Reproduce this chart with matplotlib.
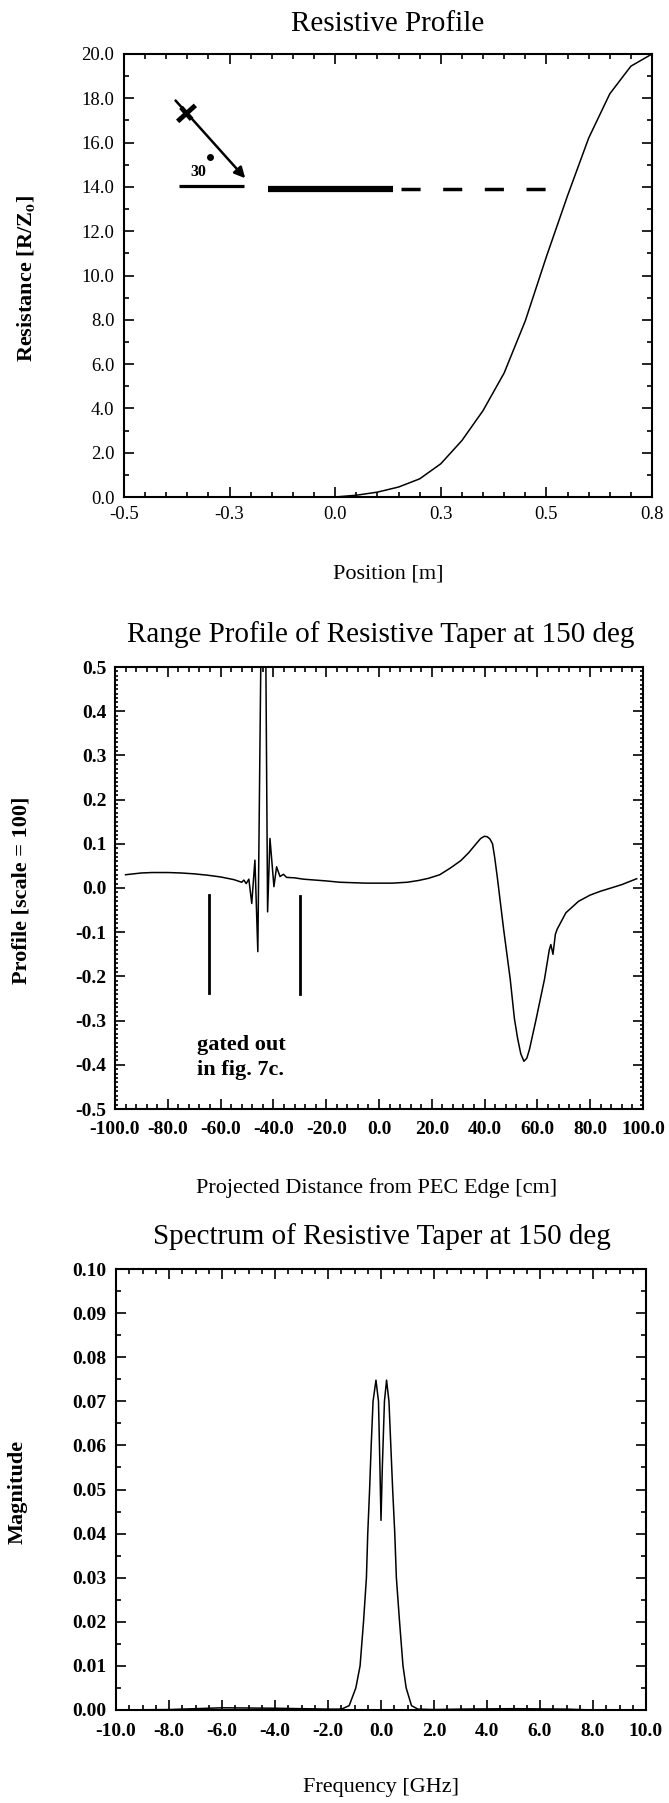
import matplotlib
matplotlib.use("Agg")
import matplotlib.pyplot as plt
from matplotlib.ticker import MultipleLocator, FormatStrFormatter, FixedLocator, FixedFormatter

plt.rcParams['font.family'] = ['Liberation Serif', 'DejaVu Serif']
plt.rcParams['axes.unicode_minus'] = False
plt.rcParams['mathtext.fontset'] = 'stix'

# ---------------- data ----------------
# Panel 1: resistive profile
pos_m = [0.00, 0.05, 0.10, 0.15, 0.20, 0.25, 0.30, 0.35, 0.40, 0.45, 0.50,
         0.55, 0.60, 0.65, 0.70, 0.75]
resistance = [0.0, 0.08, 0.22, 0.45, 0.82, 1.5, 2.55, 3.9, 5.6, 7.95, 10.85,
              13.6, 16.2, 18.2, 19.45, 20.0]
p1_xticks = [-0.5, -0.25, 0.0, 0.25, 0.5, 0.75]
p1_xticklabels = ['-0.5', '-0.3', '0.0', '0.3', '0.5', '0.8']

# Panel 2: range profile
dist_cm = [-96, -90, -86, -80, -75, -70, -65, -60, -55, -52, -51.2, -50.3, -49.3,
           -48.2, -47.0, -45.9, -44.7, -43.8, -42.9, -42.2, -41.3, -39.8, -38.8,
           -37.5, -36.2, -35.0, -32, -28.7, -20, -14.8, -5, 5, 10.7, 15, 18.8, 23,
           27, 31, 34, 36.5, 38.5, 39.9, 41, 42, 43, 43.8, 44.8, 47.2, 49.7, 51.3,
           52.5, 53.7, 54.9, 56, 57, 59.4, 62.7, 64.5, 65.1, 65.9, 66.8, 67.5,
           70.8, 75.6, 80, 83.8, 91.9, 97.6]
profile = [0.030, 0.034, 0.035, 0.035, 0.034, 0.032, 0.029, 0.025, 0.019, 0.013,
           0.018, 0.010, 0.020, -0.035, 0.063, -0.144, 0.55, 1.0, 0.55, -0.054,
           0.112, 0.003, 0.048, 0.026, 0.031, 0.024, 0.023, 0.020, 0.016, 0.013,
           0.011, 0.011, 0.013, 0.017, 0.022, 0.030, 0.045, 0.062, 0.080, 0.098,
           0.112, 0.117, 0.116, 0.111, 0.100, 0.070, 0.025, -0.093, -0.206,
           -0.296, -0.340, -0.375, -0.392, -0.385, -0.365, -0.300, -0.206, -0.140,
           -0.128, -0.150, -0.105, -0.093, -0.056, -0.030, -0.016, -0.0075,
           0.0075, 0.021]

# Panel 3: spectrum
freq_ghz = [-10, -8, -7, -6, -4, -3, -2, -1.6, -1.45, -1.2, -0.95, -0.79, -0.66,
            -0.55, -0.50, -0.43, -0.37, -0.30, -0.19, -0.095, -0.04, 0.0, 0.05,
            0.13, 0.21, 0.30, 0.37, 0.44, 0.52, 0.58, 0.70, 0.83, 0.95, 1.15, 1.39,
            2, 3, 5, 7, 8, 10]
magnitude = [0.0, 0.0001, 0.0003, 0.0005, 0.0004, 0.0003, 0.0002, 0.0002, 0.0003,
             0.001, 0.005, 0.010, 0.020, 0.030, 0.040, 0.050, 0.060, 0.070, 0.0748,
             0.070, 0.055, 0.043, 0.055, 0.070, 0.0748, 0.070, 0.060, 0.050, 0.040,
             0.030, 0.020, 0.010, 0.005, 0.001, 0.0002, 0.0001, 0.0002, 0.0003,
             0.0002, 0.0, 0.0]

# ---------------- layout ----------------
W, H = 669, 1803
fig = plt.figure(figsize=(W / 100, H / 100), dpi=100)


def rect(l, r, t, b):
    return [l / W, 1 - b / H, (r - l) / W, (b - t) / H]


def ftext(x, y, s, **kw):
    fig.text(x / W, 1 - y / H, s, **kw)


ax1 = fig.add_axes(rect(124, 652, 54, 497))
ax2 = fig.add_axes(rect(115, 643, 667, 1109))
ax3 = fig.add_axes(rect(116, 646, 1269, 1710))

for ax in (ax1, ax2, ax3):
    for sp in ax.spines.values():
        sp.set_linewidth(1.5)
    ax.tick_params(which='both', direction='in', top=True, right=True, width=1.2)
    ax.tick_params(which='major', length=7)
    ax.tick_params(which='minor', length=3.5)

# ---- Panel 1 ----
ax1.plot(pos_m, resistance, color='k', lw=1.1)
ax1.set_xlim(-0.5, 0.75)
ax1.set_ylim(0, 20)
ax1.xaxis.set_major_locator(FixedLocator(p1_xticks))
ax1.xaxis.set_major_formatter(FixedFormatter(p1_xticklabels))
ax1.xaxis.set_minor_locator(MultipleLocator(0.05))
ax1.yaxis.set_major_locator(MultipleLocator(2.0))
ax1.yaxis.set_minor_locator(MultipleLocator(1.0))
ax1.yaxis.set_major_formatter(FormatStrFormatter('%.1f'))
ax1.tick_params(axis='both', labelsize=13.5)
ax1.tick_params(axis='x', pad=6.5)
ax1.tick_params(axis='y', pad=7)

# sketch of incidence / strip
ax1.plot([-0.37, -0.217], [14.05, 14.05], color='k', lw=2.3, solid_capstyle='butt')
ax1.plot([-0.159, 0.138], [13.89, 13.89], color='k', lw=4.5, solid_capstyle='butt')
ax1.plot([0.155, 0.5], [13.89, 13.89], color='k', lw=2.5, dashes=(5.5, 6.5))
ax1.annotate('', xy=(-0.213, 14.39), xytext=(-0.378, 17.9),
             arrowprops=dict(arrowstyle='-|>', lw=1.8, color='k', mutation_scale=16,
                             shrinkA=0, shrinkB=0))
ax1.plot([-0.373, -0.331], [16.96, 17.68], color='k', lw=3.5, solid_capstyle='butt')
ax1.plot([-0.365, -0.340], [17.59, 17.05], color='k', lw=3.5, solid_capstyle='butt')
ax1.text(-0.325, 14.5, '30', fontsize=11.5, fontweight='bold', ha='center', va='baseline')
ax1.plot([-0.296], [15.36], marker='o', ms=4, color='k')

# ---- Panel 2 ----
ax2.plot(dist_cm, profile, color='k', lw=1.1)
ax2.set_xlim(-100, 100)
ax2.set_ylim(-0.5, 0.5)
ax2.xaxis.set_major_locator(MultipleLocator(20))
ax2.xaxis.set_minor_locator(MultipleLocator(4))
ax2.yaxis.set_major_locator(MultipleLocator(0.1))
ax2.yaxis.set_minor_locator(MultipleLocator(0.01))
ax2.xaxis.set_major_formatter(FormatStrFormatter('%.1f'))
ax2.yaxis.set_major_formatter(FormatStrFormatter('%.1f'))
ax2.tick_params(axis='y', which='minor', length=2.2)
ax2.tick_params(axis='both', labelsize=14)
for lbl in ax2.get_xticklabels() + ax2.get_yticklabels():
    lbl.set_fontweight('bold')
ax2.tick_params(axis='x', pad=9)
ax2.tick_params(axis='y', pad=6)
ax2.plot([-64.3, -64.3], [-0.016, -0.237], color='k', lw=2.0)
ax2.plot([-29.9, -29.9], [-0.018, -0.240], color='k', lw=2.0)
ax2.text(-69.0, -0.367, 'gated out', fontsize=16, fontweight='bold', ha='left', va='baseline')
ax2.text(-69.0, -0.424, 'in fig. 7c.', fontsize=16, fontweight='bold', ha='left', va='baseline')

# ---- Panel 3 ----
ax3.plot(freq_ghz, magnitude, color='k', lw=1.1)
ax3.set_xlim(-10, 10)
ax3.set_ylim(0, 0.10)
ax3.xaxis.set_major_locator(MultipleLocator(2))
ax3.xaxis.set_minor_locator(MultipleLocator(0.5))
ax3.yaxis.set_major_locator(MultipleLocator(0.01))
ax3.yaxis.set_minor_locator(MultipleLocator(0.005))
ax3.xaxis.set_major_formatter(FormatStrFormatter('%.1f'))
ax3.yaxis.set_major_formatter(FormatStrFormatter('%.2f'))
ax3.tick_params(axis='both', labelsize=14)
for lbl in ax3.get_xticklabels() + ax3.get_yticklabels():
    lbl.set_fontweight('bold')
ax3.tick_params(axis='x', pad=9)
ax3.tick_params(axis='y', pad=7)

# ---- titles and axis labels ----
ftext(388, 31, 'Resistive Profile', fontsize=21, ha='center', va='baseline')
ftext(381, 642, 'Range Profile of Resistive Taper at 150 deg', fontsize=21,
      ha='center', va='baseline')
ftext(382, 1244, 'Spectrum of Resistive Taper at 150 deg', fontsize=21,
      ha='center', va='baseline')

ftext(388, 578, 'Position [m]', fontsize=16, ha='center', va='baseline')
ftext(377, 1193, 'Projected Distance from PEC Edge [cm]', fontsize=16,
      ha='center', va='baseline')
ftext(381, 1792, 'Frequency [GHz]', fontsize=16, ha='center', va='baseline')

ftext(26, 278, r'Resistance [R/Z$_\mathbf{o}$]', fontsize=16, fontweight='bold',
      rotation=90, ha='center', va='center')
ftext(22, 890, 'Profile [scale = 100]', fontsize=16, fontweight='bold',
      rotation=90, ha='center', va='center')
ftext(18, 1492, 'Magnitude', fontsize=16, fontweight='bold',
      rotation=90, ha='center', va='center')

fig.savefig('out.png', dpi=100, facecolor='white')
